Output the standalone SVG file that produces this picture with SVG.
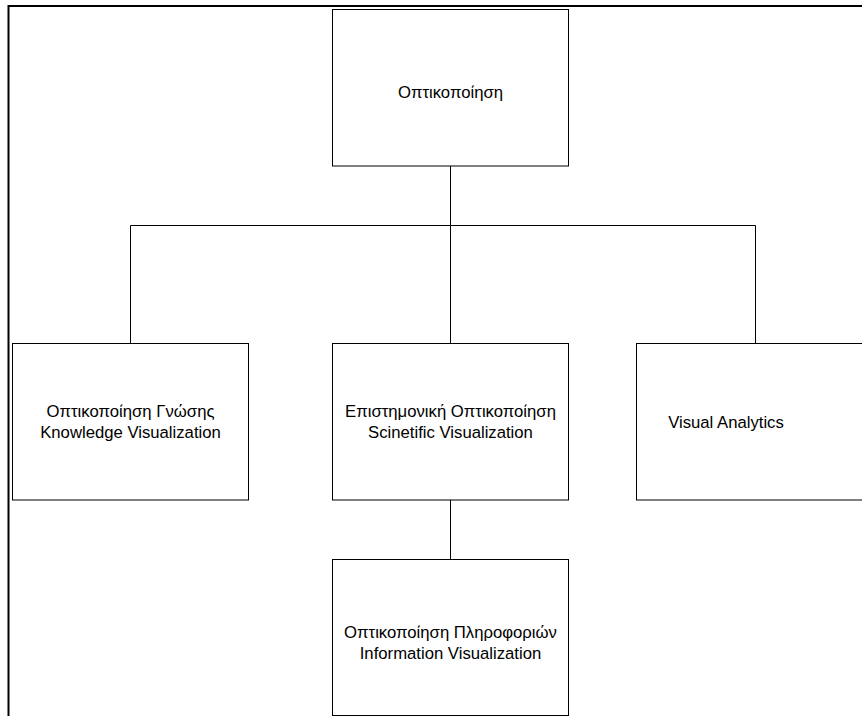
<svg xmlns="http://www.w3.org/2000/svg" width="862" height="716" viewBox="0 0 862 716">
<style>
.box{fill:#fff;stroke:#000;stroke-width:1}
.conn{stroke:#000;stroke-width:1;fill:none}
.frame{stroke:#000;stroke-width:2;fill:none}
text{font-family:"Liberation Sans",Arial,sans-serif;font-size:16.7px;fill:#000;text-anchor:middle}
</style>
<rect width="862" height="716" fill="#fff"/>
<path class="frame" d="M8.5,716 V6 H862"/>
<g id="connectors">
<line class="conn" x1="450.5" y1="166" x2="450.5" y2="225.5"/>
<line class="conn" x1="130.5" y1="225.5" x2="755.5" y2="225.5"/>
<line class="conn" x1="130.5" y1="225.5" x2="130.5" y2="343"/>
<line class="conn" x1="450.5" y1="225.5" x2="450.5" y2="343"/>
<line class="conn" x1="755.5" y1="225.5" x2="755.5" y2="343"/>
<line class="conn" x1="450.5" y1="500" x2="450.5" y2="559"/>
</g>
<g id="n0">
<rect class="box" x="332.5" y="9.5" width="236" height="156.5"/>
<text x="450.5" y="98">Οπτικοποίηση</text>
</g>
<g id="n1">
<rect class="box" x="12.5" y="343.5" width="236" height="156.5"/>
<text x="130.5" y="417">Οπτικοποίηση Γνώσης</text>
<text x="130.5" y="438">Knowledge Visualization</text>
</g>
<g id="n2">
<rect class="box" x="332.5" y="343.5" width="236" height="156.5"/>
<text x="450.5" y="417">Επιστημονική Οπτικοποίηση</text>
<text x="450.5" y="438">Scinetific Visualization</text>
</g>
<g id="n3">
<rect class="box" x="636.5" y="343.5" width="237" height="156.5"/>
<text x="726" y="428">Visual Analytics</text>
</g>
<g id="n4">
<rect class="box" x="332.5" y="559.5" width="236" height="156"/>
<text x="450.5" y="638">Οπτικοποίηση Πληροφοριών</text>
<text x="450.5" y="659">Information Visualization</text>
</g>
</svg>
